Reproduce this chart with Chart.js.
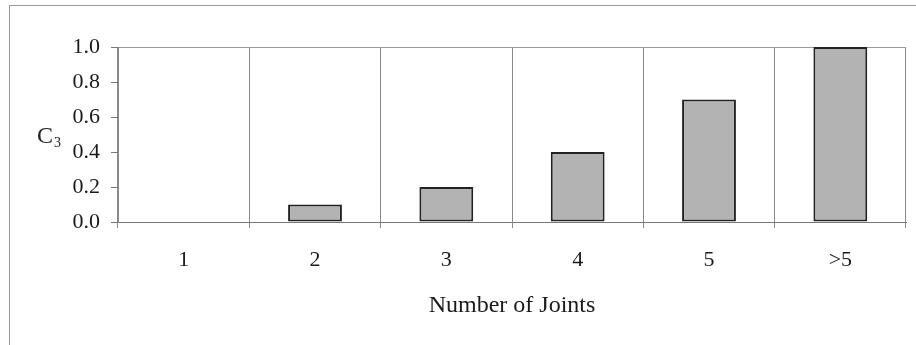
<!DOCTYPE html>
<html>
<head>
<meta charset="utf-8">
<script src="https://cdn.jsdelivr.net/npm/chart.js@4.4.1/dist/chart.umd.min.js"></script>
<style>
  html, body { margin: 0; padding: 0; background: #fff; }
  .wrap { position: relative; width: 916px; height: 345px; overflow: hidden; }
  .frame { position: absolute; left: 9px; top: 5px; width: 1000px; height: 400px;
           border-left: 1px solid #999; border-top: 1px solid #999; }
  canvas { position: absolute; left: 0; top: 0; }
</style>
</head>
<body>
<div class="wrap">
  <div class="frame"></div>
  <canvas id="c3Chart" width="916" height="345"></canvas>
</div>
<script>
// 数据
const jointLabels = ['1', '2', '3', '4', '5', '>5'];
const c3Values = [0, 0.1, 0.2, 0.4, 0.7, 1.0];
const yTicks = [0, 0.2, 0.4, 0.6, 0.8, 1.0];

const serif = "'Liberation Serif', 'Times New Roman', serif";

// y 轴标题 C3（带下标），画在画布上
const c3Title = {
  id: 'c3Title',
  afterDraw(chart) {
    const ctx = chart.ctx;
    ctx.save();
    ctx.fillStyle = '#222';
    ctx.textBaseline = 'alphabetic';
    ctx.font = '24px ' + serif;
    ctx.fillText('C', 37, 143);
    ctx.font = '14px ' + serif;
    ctx.fillText('3', 54, 147);
    ctx.restore();
  }
};

new Chart(document.getElementById('c3Chart'), {
  type: 'bar',
  data: {
    labels: jointLabels,
    datasets: [{
      data: c3Values,
      backgroundColor: '#b3b3b3',
      borderColor: '#222',
      borderWidth: ctx => (ctx.raw === 0 ? 0 : 2),
      borderSkipped: false,
      categoryPercentage: 1,
      barPercentage: 0.41
    }]
  },
  options: {
    responsive: false,
    animation: false,
    layout: { padding: { left: 0, top: 47, right: 10, bottom: 0 } },
    plugins: {
      legend: { display: false },
      tooltip: { enabled: false }
    },
    scales: {
      x: {
        grid: { offset: true, color: '#8a8a8a', lineWidth: 1, tickLength: 6, tickColor: '#8a8a8a' },
        border: { color: '#777', width: 1 },
        ticks: { color: '#1a1a1a', font: { family: serif, size: 22 }, padding: 19 },
        title: {
          display: true, text: 'Number of Joints', color: '#1a1a1a',
          font: { family: serif, size: 24 }, padding: { top: 0, bottom: 25 }
        },
        afterFit: s => { s.height = 123; }
      },
      y: {
        min: 0, max: 1,
        afterBuildTicks: s => { s.ticks = yTicks.map(v => ({ value: v })); },
        grid: {
          color: c => (c.tick && c.tick.value === 1 ? '#9a9a9a' : 'rgba(0,0,0,0)'),
          tickColor: '#777', tickLength: 7, lineWidth: 1
        },
        border: { color: '#888', width: 1 },
        ticks: {
          color: '#1a1a1a', font: { family: serif, size: 22 }, padding: 11,
          callback: v => Number(v).toFixed(1)
        },
        afterFit: s => { s.width = 118; }
      }
    }
  },
  plugins: [c3Title]
});
</script>
</body>
</html>
